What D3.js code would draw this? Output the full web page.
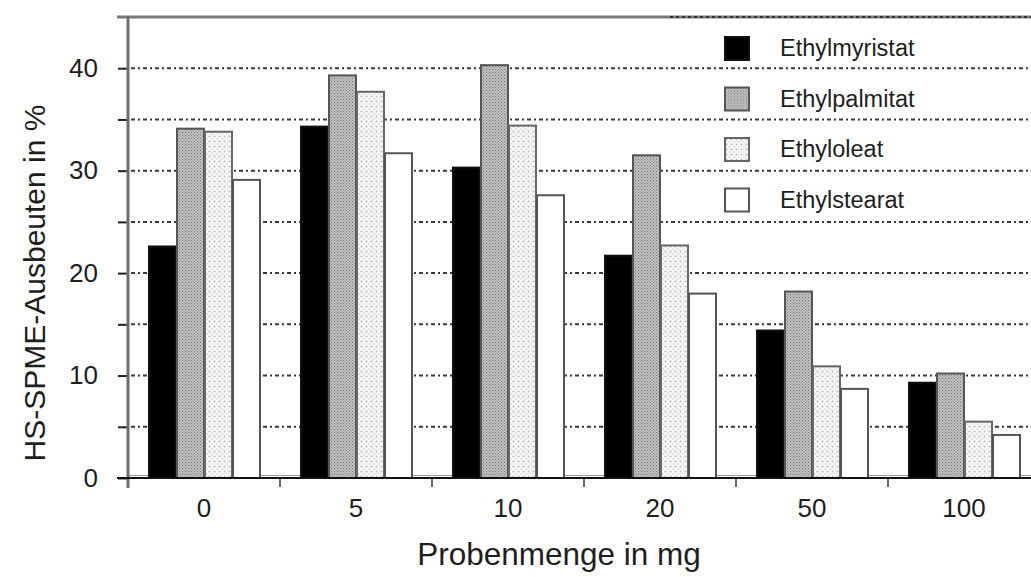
<!DOCTYPE html>
<html>
<head>
<meta charset="utf-8">
<script src="https://cdn.jsdelivr.net/npm/d3@7"></script>
<style>
  html, body { margin: 0; padding: 0; background: #fff; }
  svg { display: block; }
  text { font-family: "Liberation Sans", Arial, sans-serif; fill: #1e1e1e; }
</style>
</head>
<body>
<svg id="chart" width="1031" height="577"></svg>
<script>
// Sample amounts (mg) on the x axis
const categories = ["0", "5", "10", "20", "50", "100"];

// HS-SPME yields in % per ethyl ester
const seriesNames = ["Ethylmyristat", "Ethylpalmitat", "Ethyloleat", "Ethylstearat"];
const ethylmyristat = [22.6, 34.3, 30.3, 21.7, 14.4, 9.3];
const ethylpalmitat = [34.1, 39.3, 40.3, 31.5, 18.2, 10.2];
const ethyloleat    = [33.8, 37.7, 34.4, 22.7, 10.9, 5.5];
const ethylstearat  = [29.1, 31.7, 27.6, 18.0, 8.7, 4.2];

const yMajorTicks = [0, 10, 20, 30, 40];
const yGridValues = [5, 10, 15, 20, 25, 30, 35, 40];

const xTitle = "Probenmenge in mg";
const yTitle = "HS-SPME-Ausbeuten in %";

const values = [ethylmyristat, ethylpalmitat, ethyloleat, ethylstearat];

const svg = d3.select("#chart");
const W = 1031, H = 577;

// plot frame
const plotLeft = 128, plotTop = 17, plotBottom = 478;
const bandW = 152;

const x0 = d3.scaleBand()
  .domain(categories)
  .range([plotLeft, plotLeft + bandW * categories.length])
  .padding(0);

const groupPad = 20;
const x1 = d3.scaleBand()
  .domain(seriesNames)
  .range([groupPad, x0.bandwidth() - groupPad])
  .padding(0);

const y = d3.scaleLinear().domain([0, 45]).range([plotBottom, plotTop]);

// fill patterns for the hatched bars
const defs = svg.append("defs");
const pGray = defs.append("pattern")
  .attr("id", "patGray").attr("patternUnits", "userSpaceOnUse")
  .attr("width", 3).attr("height", 3);
pGray.append("rect").attr("width", 3).attr("height", 3).attr("fill", "#c0c0c0");
pGray.append("rect").attr("x", 0).attr("y", 0).attr("width", 1).attr("height", 1).attr("fill", "#777");
pGray.append("rect").attr("x", 1.5).attr("y", 1.5).attr("width", 1).attr("height", 1).attr("fill", "#888");

const pDot = defs.append("pattern")
  .attr("id", "patDot").attr("patternUnits", "userSpaceOnUse")
  .attr("width", 5).attr("height", 5);
pDot.append("rect").attr("width", 5).attr("height", 5).attr("fill", "#f6f6f6");
pDot.append("circle").attr("cx", 1.5).attr("cy", 1.5).attr("r", 1).attr("fill", "#bdbdbd");
pDot.append("circle").attr("cx", 4).attr("cy", 4).attr("r", 0.8).attr("fill", "#d2d2d2");

const fills = ["#000", "url(#patGray)", "url(#patDot)", "#fff"];
const strokes = ["#111", "#555", "#666", "#555"];

// horizontal grid lines
svg.append("g").selectAll("line")
  .data(yGridValues)
  .join("line")
  .attr("x1", plotLeft + 3).attr("x2", W)
  .attr("y1", d => y(d)).attr("y2", d => y(d))
  .attr("stroke", "#3a3a3a")
  .attr("stroke-width", 2)
  .attr("stroke-dasharray", "4,3,2,3");

// faint baseline of the plot area
svg.append("line")
  .attr("x1", plotLeft).attr("x2", W)
  .attr("y1", plotBottom - 2.5).attr("y2", plotBottom - 2.5)
  .attr("stroke", "#999").attr("stroke-width", 1);

// bars
const groups = svg.append("g").selectAll("g")
  .data(categories)
  .join("g")
  .attr("transform", d => `translate(${x0(d)},0)`);

groups.selectAll("rect")
  .data((c, i) => seriesNames.map((s, k) => ({ s, k, v: values[k][i] })))
  .join("rect")
  .attr("x", d => x1(d.s) + 1)
  .attr("width", x1.bandwidth() - 1)
  .attr("y", d => y(d.v))
  .attr("height", d => y(0) - y(d.v))
  .attr("fill", d => fills[d.k])
  .attr("stroke", d => strokes[d.k])
  .attr("stroke-width", 2);

// top frame line
svg.append("line")
  .attr("x1", 117).attr("x2", W)
  .attr("y1", plotTop).attr("y2", plotTop)
  .attr("stroke", "#7a7a7a").attr("stroke-width", 3);
// legend box top edge
svg.append("line")
  .attr("x1", 670).attr("x2", W)
  .attr("y1", plotTop).attr("y2", plotTop)
  .attr("stroke", "#333").attr("stroke-width", 2)
  .attr("stroke-dasharray", "3,3");

// y axis
const yAxis = d3.axisLeft(y)
  .tickValues(yGridValues.concat([0]))
  .tickSize(10)
  .tickPadding(8)
  .tickFormat(d => yMajorTicks.includes(d) ? d : "");
const gy = svg.append("g").attr("transform", `translate(${plotLeft},0)`).call(yAxis);
gy.select(".domain").remove();
gy.selectAll(".tick line").attr("stroke", "#222").attr("stroke-width", 2);
gy.selectAll(".tick text")
  .attr("font-size", 26)
  .attr("fill", "#1e1e1e")
  .attr("x", -30)
  .attr("font-family", "'Liberation Sans', Arial, sans-serif");
svg.append("line")
  .attr("x1", plotLeft).attr("x2", plotLeft)
  .attr("y1", plotTop - 1).attr("y2", plotBottom + 10)
  .attr("stroke", "#6e6e6e").attr("stroke-width", 3);

// x axis: ticks at group boundaries, labels centred under groups
svg.append("line")
  .attr("x1", 117).attr("x2", W)
  .attr("y1", plotBottom).attr("y2", plotBottom)
  .attr("stroke", "#111").attr("stroke-width", 2);

svg.append("g").selectAll("line")
  .data(categories.slice(1))
  .join("line")
  .attr("x1", d => x0(d)).attr("x2", d => x0(d))
  .attr("y1", plotBottom).attr("y2", plotBottom + 9)
  .attr("stroke", "#333").attr("stroke-width", 1.5);

svg.append("g").selectAll("text")
  .data(categories)
  .join("text")
  .attr("x", d => x0(d) + x0.bandwidth() / 2)
  .attr("y", 517)
  .attr("text-anchor", "middle")
  .attr("font-size", 26)
  .text(d => d);

// axis titles
svg.append("text")
  .attr("x", 559).attr("y", 565)
  .attr("text-anchor", "middle")
  .attr("font-size", 31.5)
  .text(xTitle);

svg.append("text")
  .attr("transform", "translate(45,283) rotate(-90)")
  .attr("text-anchor", "middle")
  .attr("font-size", 30)
  .text(yTitle);

// legend
const legend = svg.append("g").selectAll("g")
  .data(seriesNames)
  .join("g")
  .attr("transform", (d, i) => `translate(725,${37 + i * 50.5})`);
legend.append("rect")
  .attr("width", 24).attr("height", 23)
  .attr("fill", (d, i) => fills[i])
  .attr("stroke", (d, i) => strokes[i])
  .attr("stroke-width", 2);
legend.append("text")
  .attr("x", 55).attr("y", 19)
  .attr("font-size", 23.5)
  .text(d => d);
</script>
</body>
</html>
